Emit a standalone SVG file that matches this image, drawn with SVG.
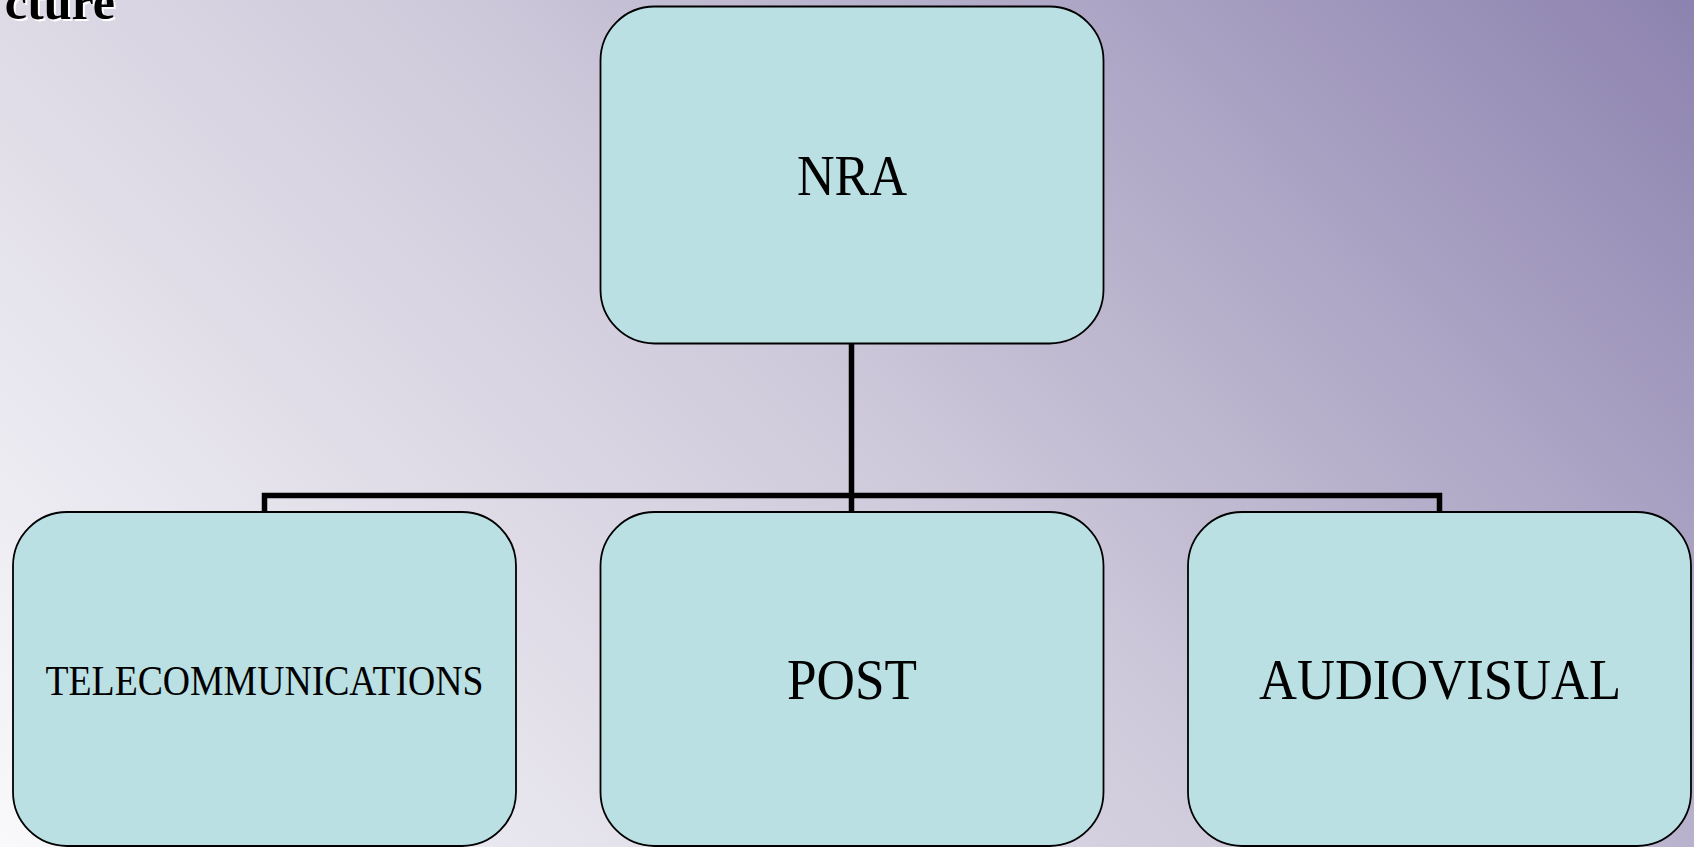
<svg xmlns="http://www.w3.org/2000/svg" width="1694" height="847" viewBox="0 0 1694 847">
<defs>
<linearGradient id="bg" x1="0" y1="847" x2="1270.5" y2="-423.5" gradientUnits="userSpaceOnUse">
<stop offset="0" stop-color="#f9f9fb"/>
<stop offset="0.5" stop-color="#cfcadb"/>
<stop offset="1" stop-color="#8d83b0"/>
</linearGradient>
<style>
.box{fill:#bae0e3;stroke:#000;stroke-width:1.8}
.lbl{font-family:"Liberation Serif",serif;fill:#000;text-anchor:middle}
.conn{fill:none;stroke:#000;stroke-width:5.5;stroke-linejoin:miter}
.title{font-family:"Liberation Serif",serif;font-weight:bold;font-size:50px;text-anchor:end}
</style>
</defs>
<rect width="1694" height="847" fill="url(#bg)"/>
<g id="title">
<text class="title" x="117" y="21" fill="#fff">cture</text>
<text class="title" x="115" y="19" fill="#000">cture</text>
</g>
<g id="connectors">
<path class="conn" d="M851.5 343 V512"/>
<path class="conn" d="M264.5 512 V495.5 H1439.5 V512"/>
</g>
<g id="nra">
<rect class="box" x="600.5" y="6.5" width="503" height="337" rx="54" ry="54"/>
<text class="lbl" x="852" y="195" font-size="56" textLength="110" lengthAdjust="spacingAndGlyphs">NRA</text>
</g>
<g id="telecom">
<rect class="box" x="13" y="512" width="503" height="334" rx="54" ry="54"/>
<text class="lbl" x="264.5" y="695" font-size="42" textLength="438" lengthAdjust="spacingAndGlyphs">TELECOMMUNICATIONS</text>
</g>
<g id="post">
<rect class="box" x="600.5" y="512" width="503" height="334" rx="54" ry="54"/>
<text class="lbl" x="852" y="699" font-size="56" textLength="130" lengthAdjust="spacingAndGlyphs">POST</text>
</g>
<g id="audiovisual">
<rect class="box" x="1188" y="512" width="503" height="334" rx="54" ry="54"/>
<text class="lbl" x="1440" y="699" font-size="56" textLength="362" lengthAdjust="spacingAndGlyphs">AUDIOVISUAL</text>
</g>
</svg>
